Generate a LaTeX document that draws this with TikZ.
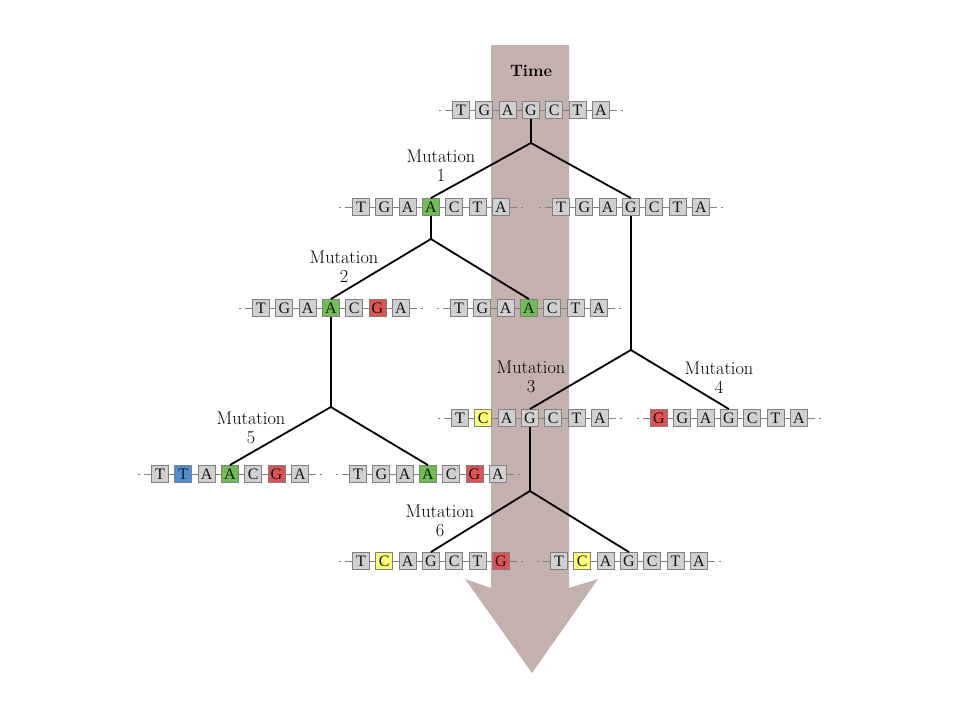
\documentclass[tikz,border=0pt]{standalone}
\usepackage{fontspec}
\newfontfamily\boxfont{Liberation Serif}
\definecolor{arrowcol}{RGB}{196,176,173}
\definecolor{gy}{RGB}{208,208,208}
\definecolor{gr}{RGB}{112,190,82}
\definecolor{rd}{RGB}{224,82,82}
\definecolor{yl}{RGB}{255,255,120}
\definecolor{bl}{RGB}{74,144,214}
\definecolor{edgecol}{RGB}{128,128,128}
\definecolor{txt}{RGB}{20,20,20}
\tikzset{
  base/.style={draw=edgecol, line width=0.9pt, minimum size=17pt, inner sep=0pt,
    text=txt, font=\boxfont\fontsize{16}{16}\selectfont},
  link/.style={draw=edgecol, line width=0.9pt},
  endline/.style={draw=edgecol, line width=0.9pt, dash pattern=on 7pt off 4pt on 2pt off 20pt},
  branch/.style={draw=black, line width=1.8pt},
  lab/.style={align=center, text=black, font=\fontsize{18.3}{19}\selectfont, inner sep=0pt},
}
\newcommand{\dnaseq}[4]{%
  \foreach [count=\i] \l/\c in {#4} {
    \pgfmathsetmacro\xx{#2+(\i-1)*23.3}
    \node[base, fill=\c] (#1-\i) at (\xx,#3) {\l};
    \ifnum\i>1
      \pgfmathtruncatemacro\prev{\i-1}
      \draw[link] (#1-\prev) -- (#1-\i);
    \fi
  }
  \coordinate (#1-L) at ([xshift=-14pt]#1-1.west);
  \coordinate (#1-R) at ([xshift=14pt]#1-7.east);
  \draw[endline] (#1-1.west) -- (#1-L);
  \draw[endline] (#1-7.east) -- (#1-R);
}
\begin{document}
\begin{tikzpicture}[x=1pt,y=-1pt]
\useasboundingbox (0,0) rectangle (960,720);
\fill[arrowcol] (491,45) -- (569,45) -- (569,588) -- (598,579) -- (532,673) -- (465,579) -- (491,588) -- cycle;
\node[font=\bfseries\fontsize{16.5}{17}\selectfont, text=black] (time) at (531,71) {Time};

% sequences
\dnaseq{S0}{461}{110}{T/gy,G/gy,A/gy,G/gy,C/gy,T/gy,A/gy}
\dnaseq{S1a}{361}{207}{T/gy,G/gy,A/gy,A/gr,C/gy,T/gy,A/gy}
\dnaseq{S1b}{561}{207}{T/gy,G/gy,A/gy,G/gy,C/gy,T/gy,A/gy}
\dnaseq{S2a}{261}{308}{T/gy,G/gy,A/gy,A/gr,C/gy,G/rd,A/gy}
\dnaseq{S2b}{459}{308}{T/gy,G/gy,A/gy,A/gr,C/gy,T/gy,A/gy}
\dnaseq{S3a}{460}{418}{T/gy,C/yl,A/gy,G/gy,C/gy,T/gy,A/gy}
\dnaseq{S3b}{659}{418}{G/rd,G/gy,A/gy,G/gy,C/gy,T/gy,A/gy}
\dnaseq{S4a}{160}{474}{T/gy,T/bl,A/gy,A/gr,C/gy,G/rd,A/gy}
\dnaseq{S4b}{358}{474}{T/gy,G/gy,A/gy,A/gr,C/gy,G/rd,A/gy}
\dnaseq{S5a}{361}{561}{T/gy,C/yl,A/gy,G/gy,C/gy,T/gy,G/rd}
\dnaseq{S5b}{559}{561}{T/gy,C/yl,A/gy,G/gy,C/gy,T/gy,A/gy}

% junctions
\coordinate (J0) at (S0-4 |- 0,143);
\coordinate (J1) at (S1a-4 |- 0,239);
\coordinate (J2) at (S1b-4 |- 0,350);
\coordinate (J3) at (S2a-4 |- 0,407);
\coordinate (J4) at (S3a-4 |- 0,491);

% tree
\draw[branch] (S0-4.south) -- (J0);
\draw[branch] (J0) -- (S1a-4.north);
\draw[branch] (J0) -- (S1b-4.north);
\draw[branch] (S1a-4.south) -- (J1);
\draw[branch] (J1) -- (S2a-4.north);
\draw[branch] (J1) -- (S2b-4.north);
\draw[branch] (S1b-4.south) -- (J2);
\draw[branch] (J2) -- (S3a-4.north);
\draw[branch] (J2) -- (S3b-4.north);
\draw[branch] (S2a-4.south) -- (J3);
\draw[branch] (J3) -- (S4a-4.north);
\draw[branch] (J3) -- (S4b-4.north);
\draw[branch] (S3a-4.south) -- (J4);
\draw[branch] (J4) -- (S5a-4.north);
\draw[branch] (J4) -- (S5b-4.north);

% labels
\node[lab] (m1) at (441,166) {Mutation\\1};
\node[lab] (m2) at (344,267) {Mutation\\2};
\node[lab] (m3) at (531,377) {Mutation\\3};
\node[lab] (m4) at (719,378) {Mutation\\4};
\node[lab] (m5) at (251,428) {Mutation\\5};
\node[lab] (m6) at (440,521) {Mutation\\6};
\end{tikzpicture}
\end{document}
